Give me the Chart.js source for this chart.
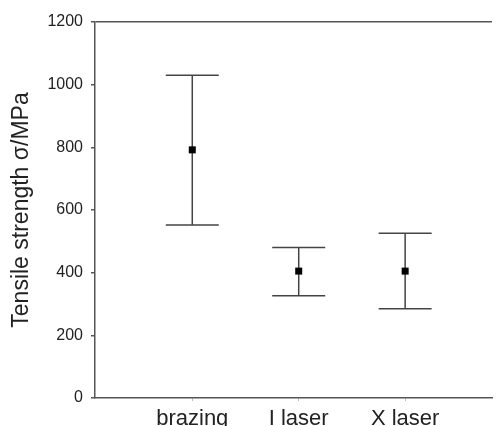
<!DOCTYPE html>
<html>
<head>
<meta charset="utf-8">
<script src="https://cdn.jsdelivr.net/npm/chart.js@4/dist/chart.umd.min.js"></script>
<style>
  html, body { margin: 0; padding: 0; background: #ffffff; }
  #wrap { width: 496px; height: 426px; position: relative; }
</style>
</head>
<body>
<div id="wrap"><canvas id="c" width="496" height="426"></canvas></div>
<script>
const categories = ["brazing", "I laser", "X laser"];
const categoryPositions = [1, 2, 3];
const meanValues = [792, 405, 405];
const upperValues = [1030, 480, 526];
const lowerValues = [552, 326, 285];
const yTicks = [0, 200, 400, 600, 800, 1000, 1200];

const axisColor = '#555555';
const textColor = '#222222';

const errorBarPlugin = {
  id: 'errorBars',
  afterDatasetsDraw(chart) {
    const xs = chart.scales.x, ys = chart.scales.y;
    const ctx = chart.ctx;
    ctx.save();
    ctx.strokeStyle = '#444444';
    ctx.lineWidth = 1.5;
    const half = 26.5;
    for (let i = 0; i < categoryPositions.length; i++) {
      const px = xs.getPixelForValue(categoryPositions[i]);
      const pt = ys.getPixelForValue(upperValues[i]);
      const pb = ys.getPixelForValue(lowerValues[i]);
      ctx.beginPath();
      ctx.moveTo(px, pt); ctx.lineTo(px, pb);
      ctx.moveTo(px - half, pt); ctx.lineTo(px + half, pt);
      ctx.moveTo(px - half, pb); ctx.lineTo(px + half, pb);
      ctx.stroke();
    }
    const meta = chart.getDatasetMeta(0);
    ctx.fillStyle = '#000000';
    meta.data.forEach(p => { ctx.fillRect(p.x - 3.5, p.y - 3.5, 7, 7); });
    ctx.restore();
  }
};

new Chart(document.getElementById('c'), {
  type: 'scatter',
  data: {
    datasets: [{
      data: categoryPositions.map((x, i) => ({ x: x, y: meanValues[i] })),
      pointStyle: 'rect',
      pointRadius: 3.5,
      backgroundColor: '#000000',
      borderColor: '#000000',
      borderWidth: 0
    }]
  },
  options: {
    responsive: false,
    animation: false,
    devicePixelRatio: 1,
    layout: { padding: { left: 0, right: 0, top: 22, bottom: 0 } },
    plugins: { legend: { display: false }, tooltip: { enabled: false } },
    scales: {
      x: {
        type: 'linear',
        min: 0.086,
        max: 3.816,
        afterBuildTicks(scale) { scale.ticks = categoryPositions.map(v => ({ value: v })); },
        afterFit(scale) { scale.height = 28; scale.paddingLeft = 0; scale.paddingRight = 0; },
        border: { display: true, color: axisColor, width: 1.5 },
        grid: { drawOnChartArea: false, color: '#bbbbbb', tickLength: 3 },
        ticks: {
          autoSkip: false,
          maxRotation: 0,
          padding: 5,
          color: textColor,
          font: { family: 'Liberation Sans, Arial, sans-serif', size: 22 },
          callback(v) { const i = categoryPositions.indexOf(v); return i >= 0 ? categories[i] : ''; }
        }
      },
      y: {
        min: 0,
        max: 1200,
        afterBuildTicks(scale) { scale.ticks = yTicks.map(v => ({ value: v })); },
        afterFit(scale) { scale.width = 95; scale.paddingTop = 0; scale.paddingBottom = 0; },
        border: { display: true, color: axisColor, width: 1.5 },
        grid: {
          drawOnChartArea: true,
          tickLength: 4,
          tickColor: axisColor,
          lineWidth: 1.5,
          color(ctx) { return ctx.tick && ctx.tick.value === 1200 ? axisColor : 'rgba(0,0,0,0)'; }
        },
        ticks: {
          padding: 8,
          color: textColor,
          font: { family: 'Liberation Sans, Arial, sans-serif', size: 16 },
          callback(v) { return String(v); }
        },
        title: {
          display: true,
          text: 'Tensile strength σ/MPa',
          color: textColor,
          padding: { top: 8, bottom: 0 },
          font: { family: 'Liberation Sans, Arial, sans-serif', size: 23 }
        }
      }
    }
  },
  plugins: [errorBarPlugin]
});
</script>
</body>
</html>
